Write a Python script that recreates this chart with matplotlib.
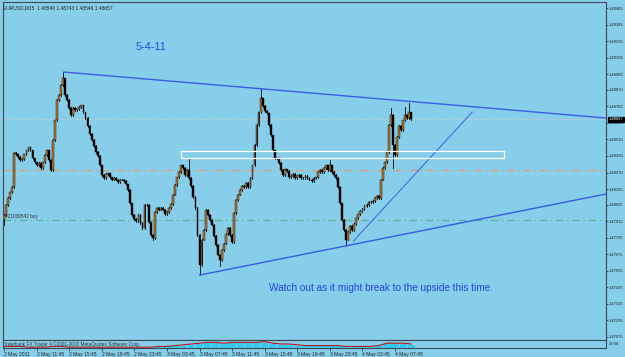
import matplotlib
matplotlib.use("Agg")
import matplotlib.pyplot as plt
import matplotlib.transforms as mtransforms
from matplotlib.patches import Rectangle

plt.rcParams['font.family'] = ['Liberation Sans', 'DejaVu Sans']

# EURUSD M15 closes, 2 May 07:45 .. 4 May 09:45
closes = [
    1.47961, 1.48034, 1.48085, 1.48128, 1.48165, 1.48412, 1.48404, 1.48383, 1.48361, 1.48368,
    1.48404, 1.48433, 1.48455, 1.48433, 1.48375, 1.48346, 1.48324, 1.48339, 1.48303, 1.48346,
    1.48397, 1.48433, 1.48361, 1.48288, 1.48506, 1.48651, 1.48797, 1.48833, 1.48906, 1.48956,
    1.48833, 1.48797, 1.48739, 1.48688, 1.48739, 1.48724, 1.48731, 1.48746, 1.48760, 1.48709,
    1.48666, 1.48608, 1.48550, 1.48506, 1.48463, 1.48419, 1.48390, 1.48324, 1.48252, 1.48230,
    1.48259, 1.48266, 1.48237, 1.48216, 1.48230, 1.48216, 1.48201, 1.48216, 1.48216, 1.48208,
    1.48186, 1.48143, 1.48048, 1.47961, 1.47932, 1.47918, 1.47961, 1.47903, 1.47867, 1.48034,
    1.48034, 1.47910, 1.47816, 1.47794, 1.47983, 1.48012, 1.47998, 1.48012, 1.47998, 1.47968,
    1.47983, 1.48012, 1.48041, 1.48107, 1.48179, 1.48237, 1.48274, 1.48324, 1.48303, 1.48252,
    1.48288, 1.48230, 1.48172, 1.48092, 1.48012, 1.47816, 1.47598, 1.47780, 1.47852, 1.47998,
    1.47961, 1.47925, 1.47889, 1.47809, 1.47743, 1.47671, 1.47634, 1.47707, 1.47751, 1.47823,
    1.47867, 1.47816, 1.47765, 1.47976, 1.48070, 1.48107, 1.48143, 1.48172, 1.48165, 1.48194,
    1.48165, 1.48230, 1.48324, 1.48470, 1.48615, 1.48709, 1.48811, 1.48753, 1.48717, 1.48702,
    1.48615, 1.48542, 1.48433, 1.48375, 1.48375, 1.48339, 1.48288, 1.48252, 1.48295, 1.48281,
    1.48237, 1.48245, 1.48259, 1.48230, 1.48245, 1.48252, 1.48230, 1.48230, 1.48245, 1.48230,
    1.48216, 1.48208, 1.48230, 1.48237, 1.48274, 1.48288, 1.48274, 1.48303, 1.48324, 1.48288,
    1.48324, 1.48274, 1.48252, 1.48230, 1.48165, 1.48048, 1.47925, 1.47852, 1.47780, 1.47838,
    1.47881, 1.47852, 1.47896, 1.47939, 1.47968, 1.47990, 1.48005, 1.48027, 1.48034, 1.48056,
    1.48056, 1.48063, 1.48085, 1.48099, 1.48085, 1.48216, 1.48303, 1.48346, 1.48419, 1.48615,
    1.48688, 1.48470, 1.48397, 1.48528, 1.48608, 1.48579, 1.48651, 1.48688, 1.48666, 1.48709,
    1.48657,
]
first_open = 1.47925
spike_highs = {29: 1.49000, 91: 1.48375, 126: 1.48877, 160: 1.48361, 190: 1.48739,
               197: 1.48746, 199: 1.48775}
spike_lows = {0: 1.47889, 73: 1.47780, 96: 1.47525, 106: 1.47590, 168: 1.47736, 191: 1.48303}

price_labels = ["1.49465", "1.49345", "1.49225", "1.49105", "1.48985", "1.48870", "1.48750",
                "1.48630", "1.48510", "1.48390", "1.48270", "1.48150", "1.48035", "1.47915",
                "1.47795", "1.47675", "1.47555", "1.47435", "1.47315", "1.47195", "1.47075"]
time_labels = ["2 May 2011", "2 May 11:45", "2 May 15:45", "2 May 19:45", "2 May 23:45",
               "3 May 03:45", "3 May 07:45", "3 May 11:45", "3 May 15:45", "3 May 19:45",
               "3 May 23:45", "4 May 03:45", "4 May 07:45"]
bars_per_label = 16

# trend lines and objects: (bar, price)
top_line = [(29.4, 1.49000), (295.6, 1.48666)]
bottom_line = [(96.1, 1.47525), (295.6, 1.48114)]
steep_line = [(171.6, 1.47772), (229.9, 1.48709)]
box = (86.8, 1.48375, 245.6, 1.48426)
bid_level = 1.48657
orange_level = 1.48288
order_level = 1.47925

# indicator window, one value per 4 bars
ind_line = [2, 2, 2, 1, 1, 1, 2, 2, 1, 1, 1, 1, 1, 1, 1, 1, 1, 1, 1, 2,
            2, 3, 4, 5, 6, 7, 7, 6, 7, 7, 7, 7, 8, 6, 5, 5, 4, 3, 3, 3,
            3, 3, 2, 2, 2, 2, 3, 6, 6, 6, 5]
ind_hist = [0, 0, 0, 0, 0, 0, 0, 0, 0, 0, 0, 0, 0, 0, 0, 0, 0, 0, 0, 1,
            2, 3, 3, 4, 5, 6, 6, 5, 6, 6, 6, 6, 6, 5, 4, 4, 3, 2, 2, 2,
            2, 2, 1, 1, 1, 1, 2, 5, 5, 5, 4]

bg = "#87CEEB"
W, H = 625, 357
fig = plt.figure(figsize=(W / 100, H / 100), dpi=100, facecolor=bg)

ax = fig.add_axes([3 / W, 1 - 340 / H, 603 / W, 338 / H], facecolor=bg)
axi = fig.add_axes([3 / W, 1 - 348 / H, 603 / W, 8 / H], facecolor=bg, sharex=ax)

wick = 0.00004
prev = first_open
for i, c in enumerate(closes):
    o = prev
    hi = spike_highs.get(i, max(o, c) + wick)
    lo = spike_lows.get(i, min(o, c) - wick)
    ax.plot([i, i], [lo, hi], color="black", lw=0.6, zorder=3)
    body_lo = min(o, c)
    body_h = max(abs(c - o), 0.00002)
    col = "#C0782C" if c >= o else "black"
    ax.add_patch(Rectangle((i - 0.45, body_lo), 0.9, body_h, facecolor=col,
                           edgecolor="black", lw=0.3, zorder=4))
    prev = c

ax.axhline(bid_level, color="#E6C9C0", lw=0.8, ls=(0, (1, 2)), zorder=2)
ax.axhline(orange_level, color="#E39A78", lw=0.9, ls=(0, (6, 3, 1, 3)), zorder=2)
ax.axhline(order_level, color="#63B08C", lw=0.9, ls=(0, (6, 3, 1, 3)), zorder=2)

blue = "#3A5CE6"
for pts, lw in [(top_line, 1.0), (bottom_line, 1.0), (steep_line, 0.7)]:
    ax.plot([p[0] for p in pts], [p[1] for p in pts], color=blue, lw=lw, zorder=5)
ax.add_patch(Rectangle((box[0], box[1]), box[2] - box[0], box[3] - box[1],
                       fill=False, edgecolor="white", lw=0.9, zorder=5))

ax.set_xlim(-0.5, 295.6)
ax.set_ylim(1.47053, 1.49509)

ax.yaxis.tick_right()
ax.set_yticks([float(s) for s in price_labels], price_labels)
ax.tick_params(axis="y", labelsize=3.0, length=1.5, width=0.5, pad=0.6, colors="#202020")
ax.tick_params(axis="x", bottom=False, labelbottom=False)
for sp in ax.spines.values():
    sp.set_color("#3A4A55")
    sp.set_linewidth(0.8)

trans = mtransforms.blended_transform_factory(ax.transAxes, ax.transData)
ax.text(1.004, bid_level, "1.48657", transform=trans, fontsize=3.0, color="white",
        va="center", ha="left", zorder=10,
        bbox=dict(facecolor="black", edgecolor="black", pad=0.5))

ax.text(0.0, 0.99, "EURUSD,M15  1.48540 1.48743 1.48546 1.48657", transform=ax.transAxes,
        fontsize=3.5, color="#202020", va="top", ha="left")
ax.text(64.7, 1.49182, "5-4-11", fontsize=7.8, color="#2543E0", va="center", ha="left")
ax.text(130, 1.47430, "Watch out as it might break to the upside this time.", fontsize=7.2,
        color="#2543E0", va="center", ha="left")
ax.text(0.5, order_level + 0.00004, "#21039542 buy", fontsize=3.4, color="#303030",
        va="bottom", ha="left")

xs = [4 * g for g in range(len(ind_line))]
axi.bar(xs, ind_hist, width=3.6, color="#33C8EE", zorder=2)
axi.plot(xs, ind_line, color="#B01818", lw=0.8, zorder=3)
axi.set_ylim(0, 10)
axi.set_yticks([])
axi.text(0.003, 0.5, "Interbank FX Trader 4 \u00a92001-2010 MetaQuotes Software Corp.",
         transform=axi.transAxes, fontsize=3.4, color="#303030", va="center", ha="left")
axi.text(1.004, 0.5, "22.08", transform=axi.transAxes, fontsize=3.0, color="#202020",
         va="center", ha="left")
tick_pos = [k * bars_per_label for k in range(len(time_labels))]
axi.set_xticks(tick_pos, time_labels)
for lab in axi.get_xticklabels():
    lab.set_horizontalalignment("left")
axi.tick_params(axis="x", labelsize=3.6, length=2, width=0.5, pad=1, colors="#202020")
for sp in axi.spines.values():
    sp.set_color("#3A4A55")
    sp.set_linewidth(0.8)

fig.savefig("out.png", dpi=100, facecolor=bg)
